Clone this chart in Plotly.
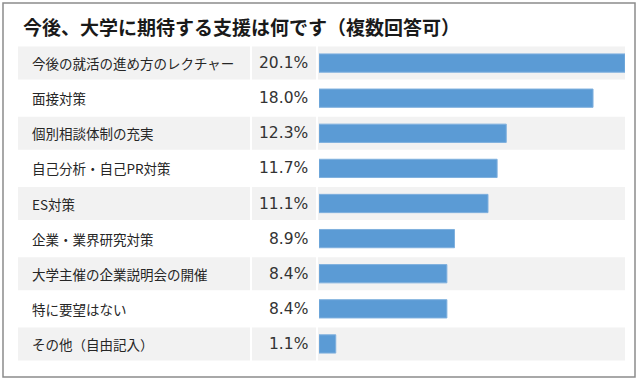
import plotly.graph_objects as go

title = "今後、大学に期待する支援は何です（複数回答可）"
categories = [
    "今後の就活の進め方のレクチャー",
    "面接対策",
    "個別相談体制の充実",
    "自己分析・自己PR対策",
    "ES対策",
    "企業・業界研究対策",
    "大学主催の企業説明会の開催",
    "特に要望はない",
    "その他（自由記入）",
]
values = [20.1, 18.0, 12.3, 11.7, 11.1, 8.9, 8.4, 8.4, 1.1]

W, H = 640, 384
FONT = "Noto Sans CJK JP"
TXT = "#262626"
BAR = "#5B9BD5"
SHADE = "#F2F2F2"

def px(x):
    return x / W

def py(y):
    return 1 - y / H

row_top, row_bot = 45.5, 361.5

fig = go.Figure(go.Bar(
    x=values, y=categories, orientation="h",
    marker=dict(color=BAR, line=dict(color="#7FB0DE", width=1)),
    width=0.52, hoverinfo="skip",
))

shapes = []
for i in range(len(categories)):
    if i % 2 == 0:
        for x0, x1 in [(18, 250), (252, 316), (318, 625)]:
            shapes.append(dict(type="rect", xref="paper", yref="y",
                               x0=px(x0), x1=px(x1), y0=i - 0.47, y1=i + 0.47,
                               fillcolor=SHADE, line=dict(width=0), layer="below"))
shapes.append(dict(type="rect", xref="paper", yref="paper",
                   x0=px(3), x1=px(635), y0=py(3), y1=py(377),
                   line=dict(color="#8C8C8C", width=1.5), fillcolor="rgba(0,0,0,0)"))

annotations = [dict(text="<b>" + title + "</b>", xref="paper", yref="paper",
                    x=px(21), y=py(26), xanchor="left", yanchor="middle",
                    showarrow=False, font=dict(family=FONT, size=19, color="#1a1a1a"))]
for c, v in zip(categories, values):
    annotations.append(dict(text=c, xref="paper", yref="y", x=px(30), y=c,
                            xanchor="left", yanchor="middle", showarrow=False,
                            font=dict(family=FONT, size=13.5, color=TXT)))
    annotations.append(dict(text=f"{v:.1f}%", xref="paper", yref="y", x=px(310), y=c,
                            xanchor="right", yanchor="middle", showarrow=False,
                            font=dict(family="DejaVu Sans", size=15.5, color="#333333")))

fig.update_layout(
    width=W, height=H, margin=dict(l=0, r=0, t=0, b=0),
    paper_bgcolor="white", plot_bgcolor="rgba(0,0,0,0)",
    showlegend=False, shapes=shapes, annotations=annotations,
    xaxis=dict(domain=[px(319), px(625)], range=[0, 20.1], visible=False, fixedrange=True),
    yaxis=dict(domain=[py(row_bot), py(row_top)], range=[8.5, -0.5],
               categoryorder="array", categoryarray=categories,
               visible=False, fixedrange=True),
)

fig.write_html("out.html", config={"displayModeBar": False},
               post_script="document.body.style.margin='0';document.body.style.padding='0';")
